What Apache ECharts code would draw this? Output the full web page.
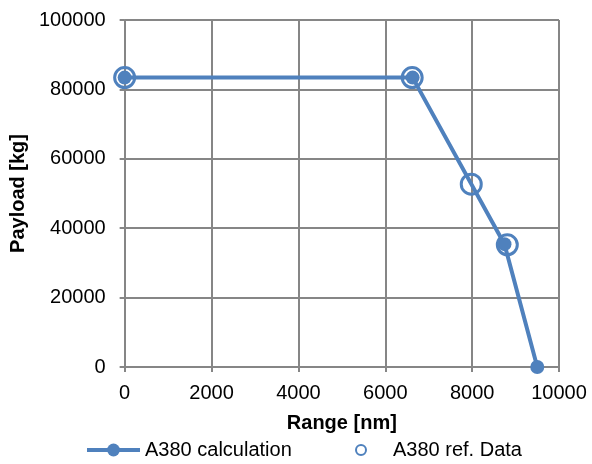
<!DOCTYPE html>
<html>
<head>
<meta charset="utf-8">
<script src="https://cdn.jsdelivr.net/npm/echarts@6/dist/echarts.min.js"></script>
<style>
  html, body { margin: 0; padding: 0; background: #fff; }
  #chart { width: 592px; height: 464px; }
</style>
</head>
<body>
<div id="chart"></div>
<script>
// payload-range data
const calcRange = [0, 6630, 8745, 9500]
const calcPayload = [83400, 83400, 35400, 0]
const refRange = [0, 6620, 7980, 8810]
const refPayload = [83400, 83400, 52700, 35200]
const xTicks = [0, 2000, 4000, 6000, 8000, 10000]
const yTicks = [0, 20000, 40000, 60000, 80000, 100000]

const blue = '#4F81BD'
const gridGray = '#868686'
const font = '"Liberation Sans", Arial, sans-serif'

const myChart = echarts.init(document.getElementById('chart'))

const option = {
  animation: false,
  grid: { left: 123, right: 33, top: 20, bottom: 97 },
  legend: [
    {
      data: [{ name: 'A380 calculation', lineStyle: { width: 4 } }],
      left: 80,
      top: 435,
      itemWidth: 53,
      itemHeight: 16,
      textStyle: { fontFamily: font, fontSize: 20, color: '#000' },
    },
    {
      data: [{ name: 'A380 ref. Data', itemStyle: { borderWidth: 2 } }],
      left: 350,
      top: 435,
      itemWidth: 10,
      itemHeight: 10,
      textStyle: { fontFamily: font, fontSize: 20, color: '#000', padding: [0, 0, 0, 22] },
    },
  ],
  xAxis: {
    type: 'value',
    min: xTicks[0],
    max: xTicks[xTicks.length - 1],
    interval: 2000,
    name: 'Range [nm]',
    nameLocation: 'middle',
    nameGap: 46,
    nameTextStyle: { fontFamily: font, fontSize: 20, fontWeight: 'bold', color: '#000' },
    axisLine: { show: true, lineStyle: { color: gridGray, width: 2 } },
    axisTick: { show: true, length: 5, lineStyle: { color: gridGray, width: 2 } },
    axisLabel: { fontFamily: font, fontSize: 20, color: '#000', margin: 16, formatter: (v) => String(v) },
    splitLine: { show: true, lineStyle: { color: gridGray, width: 2 } },
  },
  yAxis: {
    type: 'value',
    min: yTicks[0],
    max: yTicks[yTicks.length - 1],
    interval: 20000,
    name: 'Payload [kg]',
    nameLocation: 'middle',
    nameGap: 94,
    nameTextStyle: { fontFamily: font, fontSize: 20, fontWeight: 'bold', color: '#000' },
    axisLine: { show: true, lineStyle: { color: gridGray, width: 2 } },
    axisTick: { show: true, length: 5, lineStyle: { color: gridGray, width: 2 } },
    axisLabel: { fontFamily: font, fontSize: 20, color: '#000', margin: 19, formatter: (v) => String(v) },
    splitLine: { show: true, lineStyle: { color: gridGray, width: 2 } },
  },
  series: [
    {
      name: 'A380 calculation',
      type: 'line',
      data: calcRange.map((x, i) => [x, calcPayload[i]]),
      symbol: 'circle',
      symbolSize: 14,
      lineStyle: { color: blue, width: 4 },
      itemStyle: { color: blue },
      z: 3,
    },
    {
      name: 'A380 ref. Data',
      type: 'scatter',
      data: refRange.map((x, i) => [x, refPayload[i]]),
      symbol: 'circle',
      symbolSize: 20,
      itemStyle: { color: 'rgba(0,0,0,0)', borderColor: blue, borderWidth: 3, opacity: 1 },
      z: 4,
    },
  ],
}

option && myChart.setOption(option)
</script>
</body>
</html>
